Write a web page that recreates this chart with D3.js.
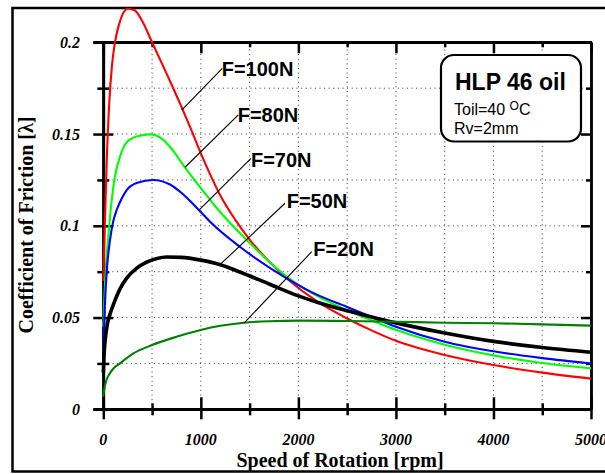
<!DOCTYPE html>
<html><head><meta charset="utf-8">
<script src="https://cdn.jsdelivr.net/npm/d3@7"></script>
<style>body{margin:0;background:#fff;overflow:hidden}</style>
</head><body><svg id="c" width="605" height="474"></svg>
<script>
// ---- data ----
const speed100 = [0, 15, 35, 60, 90, 120, 160, 200, 250, 320, 400, 500, 600, 700, 800, 900, 1000, 1100, 1200, 1350, 1500, 1700, 1900, 2200, 2500, 2750, 3000, 3500, 4000, 4500, 5000];
const friction100 = [0.07, 0.1, 0.135, 0.166, 0.188, 0.2, 0.2095, 0.2155, 0.2183, 0.2175, 0.2115, 0.2, 0.1885, 0.177, 0.165, 0.1525, 0.1395, 0.1275, 0.1165, 0.1035, 0.0925, 0.0805, 0.0705, 0.0585, 0.0495, 0.043, 0.0373, 0.0296, 0.0241, 0.02, 0.0167];

const speed80 = [0, 15, 30, 50, 80, 120, 180, 240, 350, 480, 600, 700, 840, 1000, 1150, 1300, 1470, 1700, 1880, 2200, 2500, 2750, 3000, 3500, 4000, 4500, 5000];
const friction80 = [0.045, 0.066, 0.08, 0.093, 0.111, 0.127, 0.139, 0.1455, 0.1488, 0.1498, 0.1475, 0.142, 0.1315, 0.1205, 0.1105, 0.1015, 0.0923, 0.0805, 0.0723, 0.0615, 0.054, 0.0485, 0.0433, 0.0352, 0.0294, 0.0252, 0.0223];

const speed70 = [0, 15, 35, 69, 100, 137, 190, 240, 350, 510, 684, 800, 900, 1000, 1100, 1400, 1880, 2200, 2500, 2750, 3000, 3500, 4000, 4500, 5000];
const friction70 = [0.03, 0.055, 0.075, 0.0923, 0.102, 0.1086, 0.115, 0.1195, 0.1235, 0.125, 0.1225, 0.118, 0.113, 0.1075, 0.102, 0.0886, 0.0714, 0.0622, 0.0558, 0.0503, 0.045, 0.0368, 0.0316, 0.0279, 0.025];

const speed50 = [0, 8, 20, 40, 70, 103, 170, 240, 340, 445, 550, 650, 800, 1000, 1200, 1400, 1700, 2000, 2200, 2500, 2750, 3000, 3500, 4000, 4500, 5000];
const friction50 = [0.02, 0.03, 0.038, 0.046, 0.052, 0.057, 0.0655, 0.0715, 0.0768, 0.0802, 0.0822, 0.083, 0.0828, 0.0813, 0.0788, 0.0748, 0.0683, 0.0618, 0.0582, 0.0537, 0.0503, 0.0471, 0.0416, 0.037, 0.0337, 0.0311];

const speed20 = [0, 10, 30, 60, 100, 171, 300, 499, 750, 998, 1200, 1442, 1700, 2016, 2500, 3000, 3500, 4000, 4500, 5000];
const friction20 = [0.0069, 0.011, 0.0155, 0.019, 0.022, 0.025, 0.0302, 0.035, 0.0395, 0.0432, 0.0455, 0.0472, 0.048, 0.0483, 0.0481, 0.0477, 0.0472, 0.0469, 0.0463, 0.0456];

const seriesNames = ["F=100N", "F=80N", "F=70N", "F=50N", "F=20N"];
const xMajorTicks = [0, 1000, 2000, 3000, 4000, 5000];
const xMinorTicks = [500, 1500, 2500, 3500, 4500];
const yMajorTicks = [0, 0.05, 0.1, 0.15, 0.2];
const yMinorTicks = [0.025, 0.075, 0.125, 0.175];
const yTickLabels = ["0", "0.05", "0.1", "0.15", "0.2"];
const xTickLabels = ["0", "1000", "2000", "3000", "4000", "5000"];
const legendTitle = "HLP 46 oil";
const legendLine2 = ["Toil=40 ", "O", "C"];
const legendLine3 = "Rv=2mm";
const xTitle = "Speed of Rotation [rpm]";
const yTitle = "Coefficient of Friction [\u03bb]";

// ---- build ----
const series = [
  {name: seriesNames[0], s: speed100, f: friction100, color: "#ff0000", w: 2.1},
  {name: seriesNames[1], s: speed80, f: friction80, color: "#00ff00", w: 2.1},
  {name: seriesNames[2], s: speed70, f: friction70, color: "#0000ff", w: 2.1},
  {name: seriesNames[3], s: speed50, f: friction50, color: "#000000", w: 3.6},
  {name: seriesNames[4], s: speed20, f: friction20, color: "#008000", w: 2.1}
];

const svg = d3.select("#c");
const x = d3.scaleLinear().domain([0, 5000]).range([103.3, 591]);
const y = d3.scaleLinear().domain([0, 0.2]).range([409.3, 42.3]);
const serif = "'Liberation Serif','Times New Roman',serif";
const sans = "'Liberation Sans',Arial,sans-serif";

// outer frame (open at the right, where the picture is cut)
svg.append("path").attr("d", "M640,8 H12.5 V471.5 H640")
  .attr("fill", "none").attr("stroke", "#000").attr("stroke-width", 2.5);

// grid
const g = svg.append("g").attr("stroke", "#333").attr("stroke-width", 1).attr("stroke-dasharray", "1,3.6");
xMajorTicks.concat(xMinorTicks).filter(v => v > 0 && v < 5000).forEach(v => {
  g.append("line").attr("x1", x(v)).attr("x2", x(v)).attr("y1", y(0)).attr("y2", y(0.2));
});
yMajorTicks.concat(yMinorTicks).filter(v => v > 0 && v < 0.2).forEach(v => {
  g.append("line").attr("y1", y(v)).attr("y2", y(v)).attr("x1", x(0)).attr("x2", x(5000));
});

// axes (ticks via d3 axes)
function styleAxis(sel) {
  sel.selectAll("path").attr("stroke", "#000").attr("stroke-width", 2.5);
  sel.selectAll("line").attr("stroke", "#000").attr("stroke-width", 2.5);
  sel.selectAll("text").remove();
}
function addAxis(axis, tx, ty) {
  svg.append("g").attr("transform", `translate(${tx},${ty})`).call(axis.tickSizeOuter(0)).call(styleAxis);
}
// bottom: both sides
addAxis(d3.axisBottom(x).tickValues(xMajorTicks).tickSize(10), 0, y(0));
addAxis(d3.axisTop(x).tickValues(xMajorTicks).tickSize(12), 0, y(0));
addAxis(d3.axisBottom(x).tickValues(xMinorTicks).tickSize(6), 0, y(0));
addAxis(d3.axisTop(x).tickValues(xMinorTicks).tickSize(6), 0, y(0));
// left: both sides
addAxis(d3.axisLeft(y).tickValues(yMajorTicks).tickSize(10), x(0), 0);
addAxis(d3.axisRight(y).tickValues(yMajorTicks).tickSize(10), x(0), 0);
addAxis(d3.axisLeft(y).tickValues(yMinorTicks).tickSize(6), x(0), 0);
addAxis(d3.axisRight(y).tickValues(yMinorTicks).tickSize(6), x(0), 0);
// top: inward
addAxis(d3.axisBottom(x).tickValues(xMajorTicks).tickSize(11), 0, y(0.2));
addAxis(d3.axisBottom(x).tickValues(xMinorTicks).tickSize(5), 0, y(0.2));
// right: inward
addAxis(d3.axisLeft(y).tickValues(yMajorTicks).tickSize(10), x(5000), 0);
addAxis(d3.axisLeft(y).tickValues(yMinorTicks).tickSize(5), x(5000), 0);
// axis line extensions to the left
svg.append("line").attr("x1", x(0) - 10).attr("x2", x(5000) + 1).attr("y1", y(0)).attr("y2", y(0)).attr("stroke", "#000").attr("stroke-width", 2.5);
svg.append("line").attr("x1", x(0) - 10).attr("x2", x(5000) + 1).attr("y1", y(0.2)).attr("y2", y(0.2)).attr("stroke", "#000").attr("stroke-width", 2.5);

// tick labels
svg.append("g").selectAll("text").data(yMajorTicks).join("text")
  .attr("x", 80).attr("y", d => y(d)).attr("dy", "0.35em").attr("text-anchor", "end")
  .attr("font-family", serif).attr("font-weight", "bold").attr("font-style", "italic").attr("font-size", 16)
  .text((d, i) => yTickLabels[i]);
svg.append("g").selectAll("text").data(xMajorTicks).join("text")
  .attr("x", d => x(d)).attr("y", 445).attr("text-anchor", "middle")
  .attr("font-family", serif).attr("font-weight", "bold").attr("font-style", "italic").attr("font-size", 16)
  .text((d, i) => xTickLabels[i]);

// axis titles
svg.append("text").attr("x", 340).attr("y", 467).attr("text-anchor", "middle")
  .attr("font-family", serif).attr("font-weight", "bold").attr("font-size", 20).text(xTitle);
svg.append("text").attr("transform", "translate(33,225) rotate(-90)").attr("text-anchor", "middle")
  .attr("font-family", serif).attr("font-weight", "bold").attr("font-size", 20).text(yTitle);

// curves
const line = d3.line().x(d => x(d[0])).y(d => y(d[1])).curve(d3.curveMonotoneX);
series.forEach(sr => {
  svg.append("path").datum(sr.s.map((v, i) => [v, sr.f[i]]))
    .attr("d", line).attr("fill", "none").attr("stroke", sr.color).attr("stroke-width", sr.w)
    .attr("stroke-linejoin", "round");
});

// annotations (layout in data units)
const ann = [
  {text: [1214, 0.1816], from: [1220, 0.1858], to: [804, 0.1631]},
  {text: [1378, 0.1567], from: [1384, 0.1604], to: [838, 0.1319]},
  {text: [1514, 0.1319], from: [1514, 0.1368], to: [974, 0.1081]},
  {text: [1880, 0.1095], from: [1863, 0.1123], to: [1204, 0.0792]},
  {text: [2153, 0.0835], from: [2137, 0.0859], to: [1442, 0.0469]}
];
ann.forEach((a, i) => {
  svg.append("line").attr("x1", x(a.from[0])).attr("y1", y(a.from[1])).attr("x2", x(a.to[0])).attr("y2", y(a.to[1]))
    .attr("stroke", "#000").attr("stroke-width", 1.1);
  svg.append("text").attr("x", x(a.text[0])).attr("y", y(a.text[1]))
    .attr("font-family", sans).attr("font-weight", "bold").attr("font-size", 20).text(seriesNames[i]);
});

// legend box
svg.append("rect").attr("x", 441).attr("y", 55).attr("width", 140).attr("height", 86.5).attr("rx", 13)
  .attr("fill", "#fff").attr("stroke", "#000").attr("stroke-width", 2.2);
svg.append("text").attr("x", 455).attr("y", 89.5).attr("font-family", sans).attr("font-weight", "bold")
  .attr("font-size", 23).text(legendTitle);
const t2 = svg.append("text").attr("x", 454).attr("y", 115).attr("font-family", sans).attr("font-size", 16);
t2.append("tspan").text(legendLine2[0]);
t2.append("tspan").attr("font-size", 12).attr("dy", -5).text(legendLine2[1]);
t2.append("tspan").attr("dy", 5).text(legendLine2[2]);
svg.append("text").attr("x", 454).attr("y", 134).attr("font-family", sans).attr("font-size", 16).text(legendLine3);
</script>
</body></html>
